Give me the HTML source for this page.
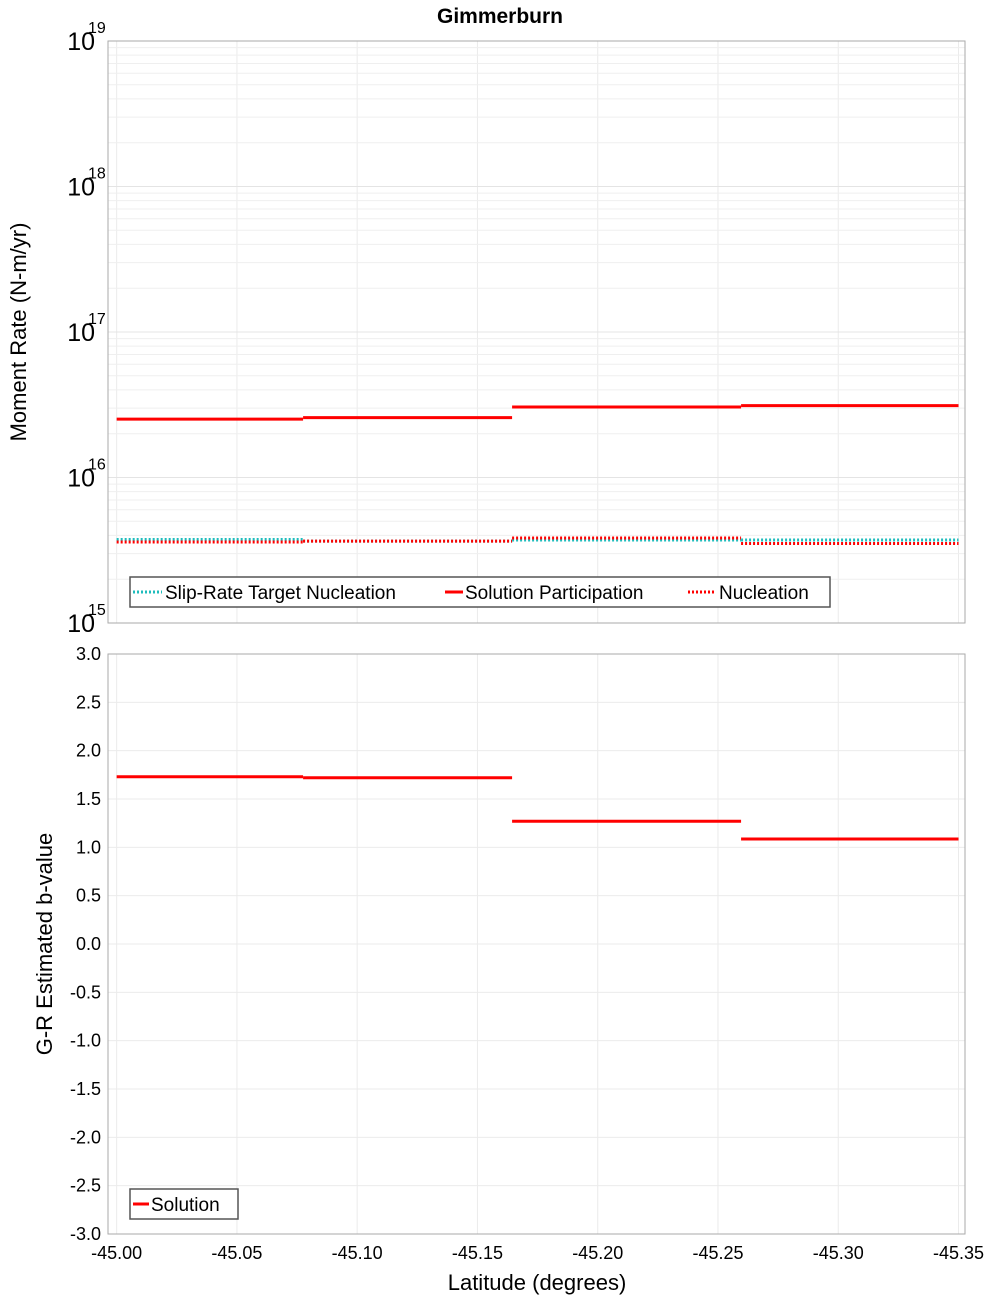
<!DOCTYPE html>
<html><head><meta charset="utf-8"><style>
body{margin:0;background:#fff}
svg{font-family:"Liberation Sans","DejaVu Sans",sans-serif}
</style></head><body>
<svg id="chart" width="1000" height="1300" xmlns="http://www.w3.org/2000/svg">
<text x="500" y="23" text-anchor="middle" font-size="21" font-weight="bold">Gimmerburn</text>
<g id="topPlot"></g>
<g id="botPlot"></g>
</svg>
<script>
const segStart = [-45.0, -45.0775, -45.1644, -45.2596];
const segEnd = [-45.0775, -45.1644, -45.2596, -45.35];
const targetNucleation = [3.75e15, 3.65e15, 3.72e15, 3.72e15];
const solutionParticipation = [2.52e16, 2.58e16, 3.05e16, 3.12e16];
const nucleation = [3.6e15, 3.65e15, 3.84e15, 3.52e15];
const bValues = [1.73, 1.72, 1.27, 1.086];
const xTicks = [-45.0, -45.05, -45.1, -45.15, -45.2, -45.25, -45.3, -45.35];
const logTicks = [15, 16, 17, 18, 19];
const bTicks = [3.0, 2.5, 2.0, 1.5, 1.0, 0.5, 0.0, -0.5, -1.0, -1.5, -2.0, -2.5, -3.0];

const NS = "http://www.w3.org/2000/svg";
const L = 108, R = 965;
const X_MIN = -44.9964, X_MAX = -45.3527;
const xs = v => L + (v - X_MIN) / (X_MAX - X_MIN) * (R - L);
const T1 = 41, B1 = 623;
const yLog = v => B1 - (Math.log10(v) - 15) / 4 * (B1 - T1);
const T2 = 654, B2 = 1234;
const yB = v => T2 + (3 - v) / 6 * (B2 - T2);

function mk(parent, tag, attrs, text) {
  const e = document.createElementNS(NS, tag);
  for (const k in attrs) e.setAttribute(k, attrs[k]);
  if (text !== undefined) e.textContent = text;
  parent.appendChild(e);
  return e;
}
const topG = document.getElementById('topPlot'), botG = document.getElementById('botPlot');

for (const g of [[topG, T1, B1], [botG, T2, B2]]) {
  for (const t of xTicks) {
    const l = mk(g[0], 'line', {x1: xs(t), x2: xs(t), y1: g[1], y2: g[2], stroke: '#ebebeb', 'stroke-width': 1});
    
    
  }
}
for (let d = 15; d < 19; d++) {
  for (let m = 1; m <= 9; m++) {
    const yy = yLog(m * Math.pow(10, d));
    const l = mk(topG, 'line', {x1: L, x2: R, y1: yy, y2: yy, stroke: m === 1 ? '#e4e4e4' : '#efefef', 'stroke-width': 1});
    
    
  }
}
for (const t of bTicks) {
  const l = mk(botG, 'line', {x1: L, x2: R, y1: yB(t), y2: yB(t), stroke: '#ebebeb', 'stroke-width': 1});
  
  
}
const f1 = mk(topG, 'rect', {x: L, y: T1, width: R - L, height: B1 - T1, fill: 'none', stroke: '#aaa'});


const f2 = mk(botG, 'rect', {x: L, y: T2, width: R - L, height: B2 - T2, fill: 'none', stroke: '#aaa'});



for (const d of logTicks) {
  const yy = yLog(Math.pow(10, d));
  const t = mk(topG, 'text', {x: 95, y: yy + 9, 'text-anchor': 'end', 'font-size': 25}, '10');
  
  
  const s = mk(topG, 'text', {x: 88, y: yy - 8, 'font-size': 16}, String(d));
  
  
}
for (const t of bTicks) {
  const e = mk(botG, 'text', {x: 101, y: yB(t) + 6, 'text-anchor': 'end', 'font-size': 18}, t.toFixed(1));
  
  
}
for (const t of xTicks) {
  const e = mk(botG, 'text', {x: xs(t), y: 1259, 'text-anchor': 'middle', 'font-size': 18}, t.toFixed(2));
  
  
}
const yt1 = mk(topG, 'text', {x: 0, y: 0, 'text-anchor': 'middle', 'font-size': 22, transform: 'translate(26,332) rotate(-90)'}, 'Moment Rate (N-m/yr)');


const yt2 = mk(botG, 'text', {x: 0, y: 0, 'text-anchor': 'middle', 'font-size': 22, transform: 'translate(52,944) rotate(-90)'}, 'G-R Estimated b-value');


const xt = mk(botG, 'text', {x: 537, y: 1290, 'text-anchor': 'middle', 'font-size': 22}, 'Latitude (degrees)');



for (let i = 0; i < segStart.length; i++) {
  const a = xs(segStart[i]), b = xs(segEnd[i]);
  const s1 = mk(topG, 'line', {x1: a, x2: b, y1: yLog(targetNucleation[i]), y2: yLog(targetNucleation[i]), stroke: '#1fbcbc', 'stroke-width': 3, 'stroke-dasharray': '2,2'});
  
  
  const s2 = mk(topG, 'line', {x1: a, x2: b, y1: yLog(nucleation[i]), y2: yLog(nucleation[i]), stroke: '#ff0000', 'stroke-width': 3, 'stroke-dasharray': '2,2'});
  
  
  const s3 = mk(topG, 'line', {x1: a, x2: b, y1: yLog(solutionParticipation[i]), y2: yLog(solutionParticipation[i]), stroke: '#ff0000', 'stroke-width': 3});
  
  
  const s4 = mk(botG, 'line', {x1: a, x2: b, y1: yB(bValues[i]), y2: yB(bValues[i]), stroke: '#ff0000', 'stroke-width': 3});
  
  
}

const lg = mk(topG, 'g', {});


mk(lg, 'rect', {x: 130, y: 577, width: 700, height: 30, fill: '#fff', stroke: '#555', 'stroke-width': 1.5});
mk(lg, 'line', {x1: 133, x2: 162, y1: 592, y2: 592, stroke: '#1fbcbc', 'stroke-width': 3, 'stroke-dasharray': '2,2'});
const lt1 = mk(lg, 'text', {x: 165, y: 599, 'font-size': 19}, 'Slip-Rate Target Nucleation');


mk(lg, 'line', {x1: 445, x2: 463, y1: 592, y2: 592, stroke: '#ff0000', 'stroke-width': 3});
const lt2 = mk(lg, 'text', {x: 465, y: 599, 'font-size': 19}, 'Solution Participation');


mk(lg, 'line', {x1: 688, x2: 716, y1: 592, y2: 592, stroke: '#ff0000', 'stroke-width': 3, 'stroke-dasharray': '2,2'});
const lt3 = mk(lg, 'text', {x: 719, y: 599, 'font-size': 19}, 'Nucleation');



const lg2 = mk(botG, 'g', {});


mk(lg2, 'rect', {x: 130, y: 1189, width: 108, height: 30, fill: '#fff', stroke: '#555', 'stroke-width': 1.5});
mk(lg2, 'line', {x1: 133, x2: 149, y1: 1204, y2: 1204, stroke: '#ff0000', 'stroke-width': 3});
const lt4 = mk(lg2, 'text', {x: 151, y: 1211, 'font-size': 19}, 'Solution');


</script>
</body></html>
